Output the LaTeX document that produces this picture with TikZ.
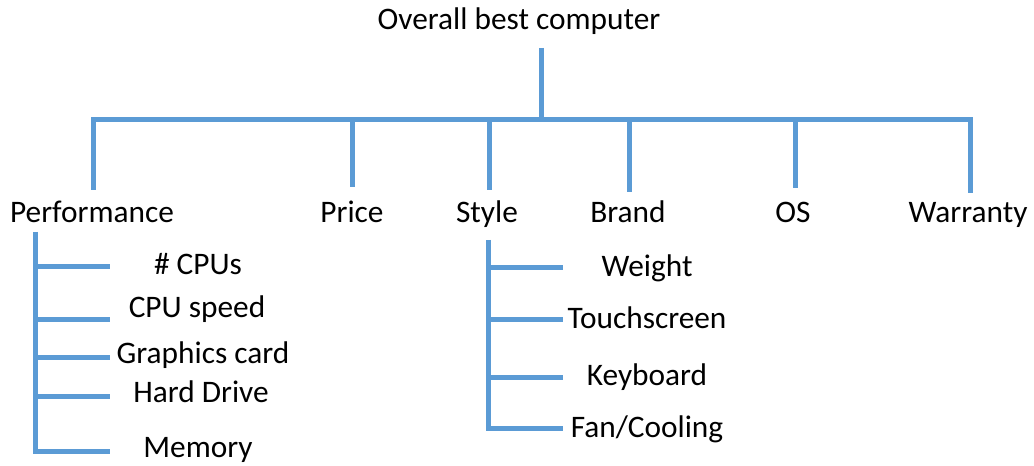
\documentclass[tikz,border=0pt]{standalone}
\usepackage{fontspec}
\setmainfont{Carlito}
\usetikzlibrary{calc}
\definecolor{treeblue}{HTML}{5B9BD5}

\begin{document}
\begin{tikzpicture}[
	x=0.75pt, y=-0.75pt,
	label/.style={font=\fontsize{23.5}{28}\selectfont, inner sep=0pt, anchor=base},
	branch/.style={draw=treeblue, line width=3.75pt, line join=miter}
	]
	\useasboundingbox (0,0) rectangle (1034,466);
	%Nodes
	\node[label](Overall) at (519,30) {Overall best computer};
	\node[label](Performance) at (92,223) {Performance};
	\node[label](Price) at (352,223) {Price};
	\node[label](Style) at (487,223) {Style};
	\node[label](Brand) at (628,223) {Brand};
	\node[label](OS) at (793,223) {OS};
	\node[label](Warranty) at (968,223) {Warranty};
	% Performance children
	\node[label](CPUs) at (198,275) {\# CPUs};
	\node[label](CPUspeed) at (197,318) {CPU speed};
	\node[label](Graphics) at (203,363) {Graphics card};
	\node[label](HardDrive) at (201,402) {Hard Drive};
	\node[label](Memory) at (198,457) {Memory};
	% Style children
	\node[label](Weight) at (647,277) {Weight};
	\node[label](Touchscreen) at (647,329) {Touchscreen};
	\node[label](Keyboard) at (647,385) {Keyboard};
	\node[label](Fan) at (647,437) {Fan/Cooling};
	%Lines
	\coordinate (stemTop) at (541,48);
	\coordinate (busL) at (93,120);
	\coordinate (busR) at (970,120);
	\draw[branch] (stemTop) -- (stemTop |- busL);
	\draw[branch] (93,190) -- (busL) -- (busR) -- (970,193);
	\draw[branch] (352,120) -- (352,187);
	\draw[branch] (489,120) -- (489,190);
	\draw[branch] (629,120) -- (629,192);
	\draw[branch] (795,120) -- (795,188);
	% Performance tree
	\draw[branch] (35,232) -- (35,451) -- (110,451);
	\foreach \y in {267,320,357,396}
		\draw[branch] (35,\y) -- (110,\y);
	% Style tree
	\draw[branch] (488,240) -- (488,428) -- (563,428);
	\foreach \y in {268,320,377}
		\draw[branch] (488,\y) -- (563,\y);
\end{tikzpicture}
\end{document}
